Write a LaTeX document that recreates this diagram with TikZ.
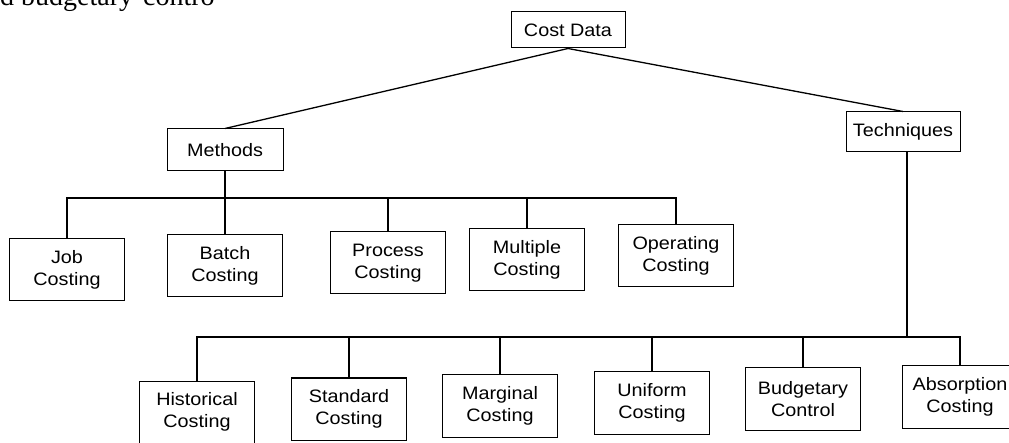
\documentclass[tikz,border=0pt]{standalone}
\usepackage{fontspec}
\setmainfont{Liberation Sans}[FakeStretch=1.1]
\newfontfamily\bodyserif{Liberation Serif}
\begin{document}
\begin{tikzpicture}[x=1pt,y=-1pt,
  box/.style={draw, line width=1pt, align=center, inner sep=0pt,
    font=\fontsize{18}{22}\selectfont},
  leaf/.style={box, minimum width=115pt, minimum height=62pt},
  frag/.style={anchor=base west, inner sep=0pt, font=\bodyserif\fontsize{28}{30}\selectfont},
  conn/.style={line width=1.3pt}]
\useasboundingbox (0,0) rectangle (1009,443);
\node[frag] (frag1) at (0,6) {d budgetary};
\node[frag] (frag2) at (143,6) {contro};
\node[box, minimum width=114pt, minimum height=36pt] (cost) at (568,30) {Cost Data};
\node[box, minimum width=116pt, minimum height=42pt] (methods) at (225,150) {Methods};
\node[box, minimum width=114pt, minimum height=40pt] (tech) at (903,132) {Techniques};
\node[leaf] (job) at (67,270) {Job\\Costing};
\node[leaf] (batch) at (225,266) {Batch\\Costing};
\node[leaf] (process) at (388,263) {Process\\Costing};
\node[leaf] (multiple) at (527,260) {Multiple\\Costing};
\node[leaf] (operating) at (676,256) {Operating\\Costing};
\node[leaf] (hist) at (197,412) {Historical\\Costing};
\node[leaf] (standard) at (349,409) {Standard\\Costing};
\node[leaf] (marginal) at (500,406) {Marginal\\Costing};
\node[leaf] (uniform) at (652,403) {Uniform\\Costing};
\node[leaf] (budget) at (803,399) {Budgetary\\Control};
\node[leaf] (absorp) at (960,397) {Absorption\\Costing};
\coordinate (mbar) at (0,198);
\coordinate (tbar) at (0,337);
\draw[conn] (cost.south) -- (methods.north);
\draw[conn] (cost.south) -- (tech.north);
\draw[conn] (methods.south) -- (methods.south |- mbar);
\draw[conn] (job.north) -- (job.north |- mbar) -- (operating.north |- mbar) -- (operating.north);
\foreach \n in {batch,process,multiple}
  \draw[conn] (\n.north) -- (\n.north |- mbar);
\draw[conn] ([xshift=4pt]tech.south) -- ([xshift=4pt]tech.south |- tbar);
\draw[conn] (hist.north) -- (hist.north |- tbar) -- (absorp.north |- tbar) -- (absorp.north);
\foreach \n in {standard,marginal,uniform,budget}
  \draw[conn] (\n.north) -- (\n.north |- tbar);
\end{tikzpicture}
\end{document}
